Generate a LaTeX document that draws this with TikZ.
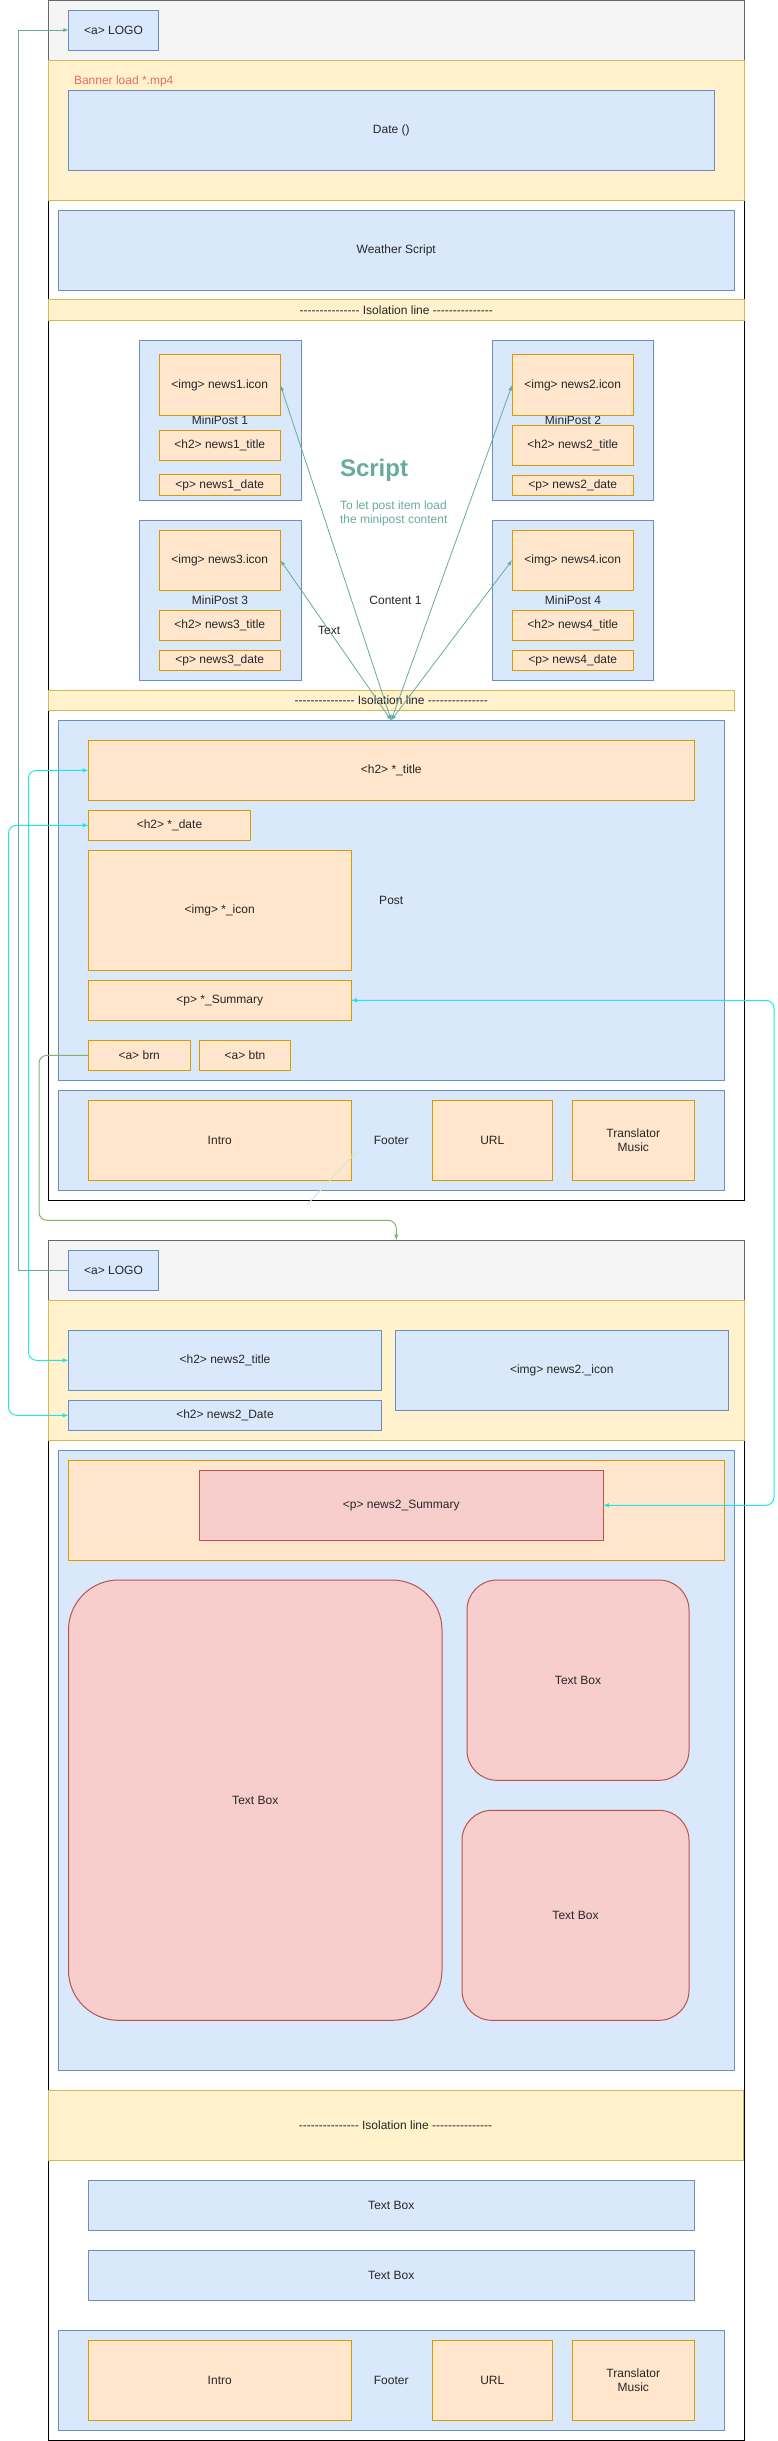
\documentclass[tikz,border=0pt]{standalone}
\usepackage{fontspec}
\setmainfont{Liberation Sans}[Ligatures=TeXOff]
\usetikzlibrary{positioning}

\definecolor{blueF}{HTML}{DAE8FC}
\definecolor{blueD}{HTML}{6C8EBF}
\definecolor{orangeF}{HTML}{FFE6CC}
\definecolor{orangeD}{HTML}{D79B00}
\definecolor{yellowF}{HTML}{FFF2CC}
\definecolor{yellowD}{HTML}{D6B656}
\definecolor{redF}{HTML}{F8CECC}
\definecolor{redD}{HTML}{B85450}
\definecolor{grayF}{HTML}{F5F5F5}
\definecolor{grayD}{HTML}{666666}
\definecolor{tealD}{HTML}{67AB9F}
\definecolor{greenD}{HTML}{82B366}
\definecolor{cyanD}{HTML}{22E6E6}
\definecolor{ghostD}{HTML}{D5E8D4}
\definecolor{bannerred}{HTML}{EA6B66}

\tikzset{
  bluebox/.style={draw=blueD, fill=blueF},
  orangebox/.style={draw=orangeD, fill=orangeF},
  yellowbar/.style={draw=yellowD, fill=yellowF},
  redbox/.style={draw=redD, fill=redF},
  graybar/.style={draw=grayD, fill=grayF},
  pageframe/.style={draw=black, fill=white},
  tealline/.style={draw=tealD, line width=0.8pt},
  cyanline/.style={draw=cyanD, rounded corners=8pt},
}
\newcommand{\isoline}{--------------- Isolation line ---------------}

\begin{document}
\begin{tikzpicture}[x=1pt, y=-1pt, line width=1pt,
  every node/.style={font=\fontsize{12}{14}\selectfont, inner sep=0pt, outer sep=0pt, align=center, text=black!85}]
	\useasboundingbox (0,0) rectangle (778,2441);
	\node[pageframe, minimum width=695.5pt, minimum height=1200pt] (pageA) at (396.25,600) {};
	\node[graybar, minimum width=695.5pt, minimum height=60pt] (headA) at (396.25,30) {};
	\node[bluebox, minimum width=90pt, minimum height=40pt] (logoA) at (113.5,30) {<a> LOGO};
	\node[yellowbar, minimum width=695.5pt, minimum height=140pt] (bannerA) at (396.25,130) {};
	\node[anchor=west, text=bannerred] (bannerlbl) at (74,81) {Banner load *.mp4};
	\node[bluebox, minimum width=645.5pt, minimum height=80pt] (dateA) at (391.25,130) {Date ()};
	\node[bluebox, minimum width=675.5pt, minimum height=80pt] (weather) at (396.25,250) {Weather Script};
	\node[yellowbar, minimum width=695.5pt, minimum height=20.7pt] (isoA) at (396.25,310.3) {\isoline};

	\node[bluebox, minimum width=162pt, minimum height=160pt] (mini1) at (220,420) {MiniPost 1};
	\node[orangebox, minimum width=121.5pt, minimum height=60.7pt] (icon1) at (219.75,385.3) {<img> news1.icon};
	\node[orangebox, minimum width=121.5pt, minimum height=30.4pt] (title1) at (219.75,445.5) {<h2> news1\_title};
	\node[orangebox, minimum width=121.5pt, minimum height=20.7pt] (date1) at (219.75,485.3) {<p> news1\_date};
	\node[bluebox, minimum width=161pt, minimum height=160pt] (mini2) at (573,420) {MiniPost 2};
	\node[orangebox, minimum width=121.5pt, minimum height=60.7pt] (icon2) at (572.75,385.3) {<img> news2.icon};
	\node[orangebox, minimum width=121.5pt, minimum height=40pt] (title2) at (572.75,445.7) {<h2> news2\_title};
	\node[orangebox, minimum width=121.5pt, minimum height=20.3pt] (date2) at (572.75,485.8) {<p> news2\_date};
	\node[bluebox, minimum width=162pt, minimum height=159.7pt] (mini3) at (220,600.2) {MiniPost 3};
	\node[orangebox, minimum width=121.5pt, minimum height=60pt] (icon3) at (219.75,560.3) {<img> news3.icon};
	\node[orangebox, minimum width=121.5pt, minimum height=30.4pt] (title3) at (219.75,625.5) {<h2> news3\_title};
	\node[orangebox, minimum width=121.5pt, minimum height=20pt] (date3) at (219.75,660.3) {<p> news3\_date};
	\node[bluebox, minimum width=161pt, minimum height=159.7pt] (mini4) at (573,600.2) {MiniPost 4};
	\node[orangebox, minimum width=121.5pt, minimum height=60pt] (icon4) at (572.75,560.3) {<img> news4.icon};
	\node[orangebox, minimum width=121.5pt, minimum height=30.4pt] (title4) at (572.75,625.5) {<h2> news4\_title};
	\node[orangebox, minimum width=121.5pt, minimum height=20pt] (date4) at (572.75,660.3) {<p> news4\_date};

	\node[anchor=west, text=tealD, font=\fontsize{24}{28}\selectfont\bfseries] (script) at (340,470) {Script};
	\node[anchor=west, text=tealD, align=left] (scriptnote) at (340,513.7) {To let post item load\\the minipost content};
	\node (content) at (395.5,600.7) {Content 1};
	\node[yellowbar, minimum width=685.5pt, minimum height=20pt] (isoB) at (391.25,700.3) {\isoline};

	\node[bluebox, minimum width=665.5pt, minimum height=360pt] (post) at (391.25,900.3) {Post};
	\node[orangebox, minimum width=605.5pt, minimum height=60pt] (ptitle) at (391.25,770.3) {<h2> *\_title};
	\node[orangebox, minimum width=162pt, minimum height=30pt] (pdate) at (169.5,825.3) {<h2> *\_date};
	\node[orangebox, minimum width=262.5pt, minimum height=120pt] (picon) at (219.75,910.3) {<img> *\_icon};
	\node[orangebox, minimum width=262.5pt, minimum height=40pt] (psum) at (219.75,1000.3) {<p> *\_Summary};
	\node[orangebox, minimum width=101.5pt, minimum height=30pt] (brn) at (139.25,1055.3) {<a> brn};
	\node[orangebox, minimum width=91pt, minimum height=30pt, right=9.5pt of brn] (btn) {<a> btn};
	\node[bluebox, minimum width=665.5pt, minimum height=100pt] (footA) at (391.25,1140.3) {Footer};
	\node[orangebox, minimum width=262.5pt, minimum height=80pt] (introA) at (219.75,1140.3) {Intro};
	\node[orangebox, minimum width=120.5pt, minimum height=80pt] (urlA) at (492.25,1140.3) {URL};
	\node[orangebox, minimum width=121.5pt, minimum height=80pt] (transA) at (633.25,1140.3) {Translator\\Music};

	\node[pageframe, minimum width=695.5pt, minimum height=1200.3pt] (pageB) at (396.25,1840.15) {};
	\node[graybar, minimum width=695.5pt, minimum height=60pt] (headB) at (396.25,1270.3) {};
	\node[bluebox, minimum width=90pt, minimum height=40pt] (logoB) at (113.5,1270.3) {<a> LOGO};
	\node[yellowbar, minimum width=695.5pt, minimum height=140pt] (bannerB) at (396.25,1370.3) {};
	\node[bluebox, minimum width=313pt, minimum height=60pt] (ntitle) at (225,1360.3) {<h2> news2\_title};
	\node[bluebox, minimum width=313pt, minimum height=30pt] (ndate) at (225,1415.3) {<h2> news2\_Date};
	\node[bluebox, minimum width=332.5pt, minimum height=80pt] (nicon) at (561.75,1370.3) {<img> news2.\_icon};
	\node[bluebox, minimum width=675.5pt, minimum height=620pt] (bodyB) at (396.25,1760.3) {};
	\node[orangebox, minimum width=655.5pt, minimum height=100pt] (sumwrap) at (396.25,1510.3) {};
	\node[redbox, minimum width=403.5pt, minimum height=70pt] (nsum) at (401.25,1505.3) {<p> news2\_Summary};
	\node[redbox, rounded corners=50pt, minimum width=373.5pt, minimum height=440.3pt] (tbbig) at (255.25,1800.15) {Text Box};
	\node[redbox, rounded corners=30pt, minimum width=222pt, minimum height=200.3pt] (tbtop) at (578,1680.15) {Text Box};
	\node[redbox, rounded corners=30pt, minimum width=227pt, minimum height=210pt] (tblow) at (575.5,1915.3) {Text Box};
	\node[yellowbar, minimum width=695pt, minimum height=70pt] (isoC) at (395.5,2125.3) {\isoline};
	\node[bluebox, minimum width=605.5pt, minimum height=50pt] (textA) at (391.25,2205.3) {Text Box};
	\node[bluebox, minimum width=605.5pt, minimum height=50pt] (textB) at (391.25,2275.3) {Text Box};
	\node[bluebox, minimum width=665.5pt, minimum height=100pt] (footB) at (391.25,2380.3) {Footer};
	\node[orangebox, minimum width=262.5pt, minimum height=80pt] (introB) at (219.75,2380.3) {Intro};
	\node[orangebox, minimum width=120.5pt, minimum height=80pt] (urlB) at (492.25,2380.3) {URL};
	\node[orangebox, minimum width=121.5pt, minimum height=80pt] (transB) at (633.25,2380.3) {Translator\\Music};

	\draw[tealline, latex-latex] (post.north) -- (icon1.east);
	\draw[tealline, latex-latex] (post.north) -- (icon2.west);
	\draw[tealline, latex-latex] (post.north) -- node[pos=0.56] (textlbl) {Text} (icon3.east);
	\draw[tealline, latex-latex] (post.north) -- (icon4.west);
	\draw[tealline, -latex] (logoB.west) -- ++(-50,0) |- (logoA.west);
	\draw[cyanline, latex-latex] (ptitle.west) -- ++(-60,0) |- (ntitle.west);
	\draw[cyanline, latex-latex] (pdate.west) -- ++(-80,0) |- (ndate.west);
	\draw[cyanline, latex-latex] (psum.east) -- ++(423,0) |- (nsum.east);
	\draw[draw=greenD, rounded corners=8pt, -latex] (brn.west) -- ++(-49.5,0) |- ([yshift=20pt]headB.north) -- (headB.north);
	\coordinate (ghostS) at (306.7,1205);
	\coordinate (ghostE) at (356.7,1151.7);
	\draw[draw=ghostD, -latex] (ghostS) -- (ghostE);
\end{tikzpicture}
\end{document}
